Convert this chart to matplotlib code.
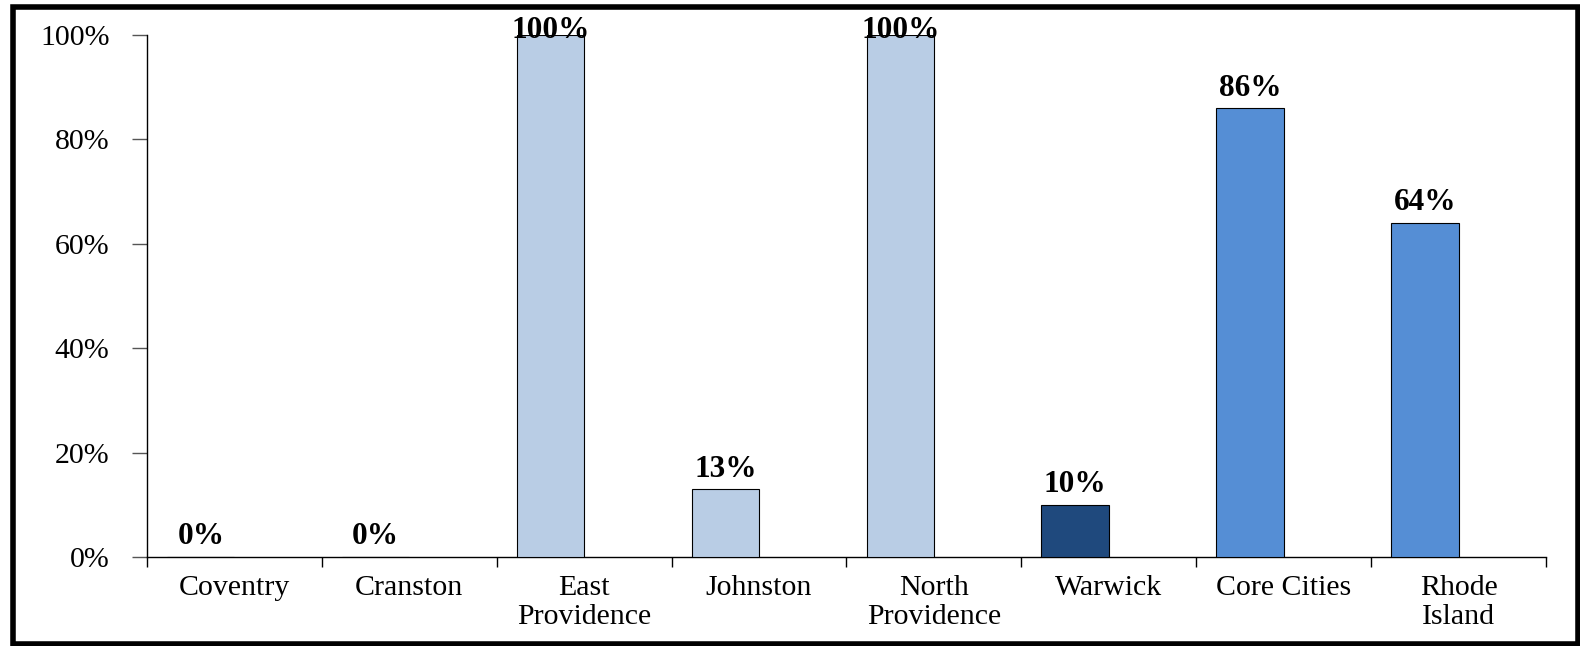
import matplotlib
matplotlib.use("Agg")
import matplotlib.pyplot as plt
from matplotlib.patches import Rectangle
from matplotlib.ticker import FuncFormatter

categories = ["Coventry", "Cranston", "East\nProvidence", "Johnston", "North\nProvidence",
              "Warwick", "Core Cities", "Rhode\nIsland"]
values = [0, 0, 100, 13, 100, 10, 86, 64]
colors = ["#B9CDE5", "#B9CDE5", "#B9CDE5", "#B9CDE5", "#B9CDE5",
          "#1F497D", "#558ED5", "#558ED5"]
yticks = [0, 20, 40, 60, 80, 100]

plt.rcParams['font.family'] = ['Liberation Serif', 'DejaVu Serif']

W, H = 1580, 646
fig = plt.figure(figsize=(W / 100, H / 100), dpi=100)
ax = fig.add_axes([147 / W, 1 - 557 / H, (1546 - 147) / W, (557 - 35) / H])

bw = 0.385
xs = list(range(len(categories)))
ax.bar([x - bw for x in xs], values, width=bw, align='edge', color=colors,
       edgecolor='black', linewidth=0.8, zorder=3)

for x, v in zip(xs, values):
    off = 4 if v < 95 else -7
    ax.annotate(f"{v}%", (x - bw / 2, v), xytext=(0, off), textcoords='offset points',
                ha='center', va='bottom', fontsize=22.5, fontweight='bold', color='black',
                annotation_clip=False, zorder=4)

ax.set_xlim(-0.5, len(categories) - 0.5)
ax.set_ylim(0, 100)
ax.set_yticks(yticks)
ax.yaxis.set_major_formatter(FuncFormatter(lambda v, p: f"{int(v)}%"))
ax.tick_params(axis='y', direction='out', length=11, width=1, color='#555555',
               labelsize=21.5, pad=16)

ax.set_xticks([i - 0.5 for i in range(len(categories) + 1)])
ax.set_xticklabels([])
ax.tick_params(axis='x', which='major', direction='out', length=7, width=1, color='black')
ax.set_xticks(xs, minor=True)
ax.set_xticklabels(categories, minor=True)
ax.tick_params(axis='x', which='minor', length=0, labelsize=21.5, pad=13)
for lab in ax.get_xticklabels(minor=True):
    lab.set_linespacing(1.15)

for s in ['top', 'right']:
    ax.spines[s].set_visible(False)
ax.spines['left'].set_color('black')
ax.spines['bottom'].set_color('black')
ax.spines['left'].set_linewidth(1)
ax.spines['bottom'].set_linewidth(1)

fig.patches.append(Rectangle((12.5 / W, 2.5 / H), (1578 - 12.5) / W, (639 - 2.5) / H,
                             transform=fig.transFigure, fill=False, edgecolor='black',
                             linewidth=4, zorder=10))

fig.savefig("out.png", dpi=100)
